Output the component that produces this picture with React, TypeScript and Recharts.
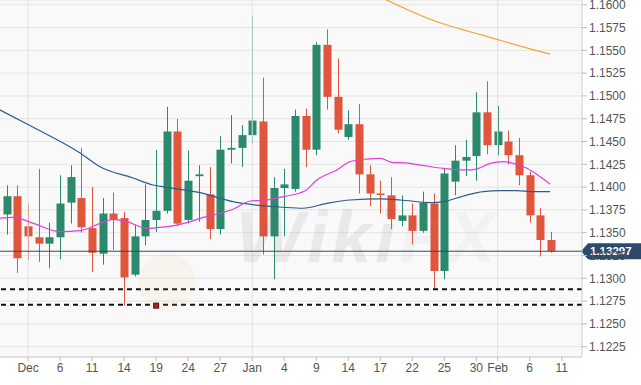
import React from "react";
import {
  ComposedChart,
  Bar,
  Line,
  XAxis,
  YAxis,
  CartesianGrid,
  ReferenceLine,
  ReferenceDot,
} from "recharts";

// daily candles, Nov 29 .. Feb 8 (index 0..51)
const opens = [
  1.137, 1.139, 1.1357, 1.1345, 1.1338, 1.1345, 1.1383, 1.1388, 1.1355, 1.1327,
  1.1371, 1.1366, 1.1304, 1.1346, 1.1364, 1.1374, 1.1461, 1.1364, 1.1412, 1.1392,
  1.1354, 1.1441, 1.1443, 1.1457, 1.1472, 1.1346, 1.1399, 1.1398, 1.1478, 1.1441,
  1.1556, 1.1499, 1.1455, 1.1469, 1.1414, 1.1393, 1.1391, 1.1363, 1.1369, 1.1352,
  1.1382, 1.1308, 1.1406, 1.1429, 1.1434, 1.1482, 1.1446, 1.145, 1.1435, 1.1413,
  1.1369, 1.1342,
];
const highs = [
  1.1402, 1.1402, 1.1382, 1.142, 1.1361, 1.1413, 1.1424, 1.1443, 1.14, 1.1388,
  1.1394, 1.1373, 1.1359, 1.1403, 1.1441, 1.1488, 1.1475, 1.144, 1.1424, 1.1422,
  1.1456, 1.1479, 1.1468, 1.1588, 1.152, 1.1411, 1.142, 1.1485, 1.1486, 1.1559,
  1.1573, 1.1541, 1.1484, 1.1491, 1.1424, 1.1407, 1.1411, 1.1391, 1.1382, 1.1395,
  1.1393, 1.142, 1.1446, 1.1452, 1.1504, 1.1516, 1.1489, 1.1462, 1.1454, 1.1417,
  1.1377, 1.1351,
];
const lows = [
  1.1348, 1.1306, 1.132, 1.1318, 1.1311, 1.1321, 1.136, 1.135, 1.1307, 1.1315,
  1.1331, 1.127, 1.1302, 1.1336, 1.1351, 1.1371, 1.1357, 1.136, 1.1362, 1.1343,
  1.1348, 1.1426, 1.1422, 1.1447, 1.1326, 1.1299, 1.1346, 1.1395, 1.1422, 1.1435,
  1.1485, 1.1459, 1.1452, 1.1393, 1.1379, 1.1371, 1.1354, 1.1357, 1.1337, 1.135,
  1.1288, 1.1299, 1.1391, 1.1412, 1.1407, 1.1436, 1.1435, 1.1425, 1.1402, 1.1361,
  1.1324, 1.1328,
];
const closes = [
  1.139, 1.1322, 1.1346, 1.1338, 1.1345, 1.1382, 1.1411, 1.1356, 1.1328, 1.1371,
  1.1364, 1.1301, 1.1346, 1.1364, 1.1374, 1.1461, 1.136, 1.1407, 1.1414, 1.1354,
  1.1441, 1.1443, 1.1457, 1.1473, 1.1346, 1.1399, 1.1403, 1.1478, 1.1441, 1.1556,
  1.1499, 1.1463, 1.1469, 1.1414, 1.1393, 1.1392, 1.1365, 1.1369, 1.1352, 1.1383,
  1.1308, 1.1415, 1.1429, 1.1433, 1.1482, 1.1446, 1.1461, 1.1435, 1.1413, 1.1369,
  1.1342, 1.13297,
];

// moving averages as [index, value]
const maFast = [
  [-0.7, 1.13658], [0.62, 1.13669], [2.49, 1.13603], [5.0, 1.13511], [6.87, 1.13522],
  [8.74, 1.13603], [9.99, 1.13647], [11.25, 1.13621], [13.12, 1.13548], [14.06, 1.13555],
  [15.93, 1.13584], [16.87, 1.1361], [18.12, 1.13658], [19.99, 1.13713], [21.2, 1.13757],
  [22.8, 1.13848], [24.37, 1.13859], [25.9, 1.13895], [27.96, 1.13961], [29.05, 1.14078],
  [30.93, 1.14188], [32.17, 1.14279], [33.74, 1.14308], [34.99, 1.14316], [36.23, 1.14268],
  [36.86, 1.14268], [38.73, 1.14242], [40.89, 1.14206], [43.11, 1.14188], [43.89, 1.14195],
  [45.3, 1.14261], [46.51, 1.14279], [47.45, 1.14261], [48.74, 1.14206], [49.98, 1.14114],
  [50.92, 1.14031],
];
const maMid = [
  [-0.7, 1.1485], [2.49, 1.14656], [5.62, 1.14462], [6.87, 1.14374], [8.74, 1.14224],
  [11.84, 1.141], [13.71, 1.14023], [15.0, 1.13998], [18.12, 1.13939], [21.2, 1.1384],
  [25.9, 1.13779], [27.77, 1.13768], [29.99, 1.13822], [32.17, 1.13859], [34.99, 1.1387],
  [36.86, 1.13859], [39.95, 1.13829], [40.89, 1.1384], [43.11, 1.13913], [44.64, 1.1395],
  [46.24, 1.13961], [47.8, 1.13961], [49.33, 1.1395], [50.9, 1.1395],
];
const maSlow = [
  [35.0, 1.16085], [40.3, 1.15814], [43.42, 1.15704], [45.92, 1.15621], [48.11, 1.15547],
  [50.92, 1.15459],
];

const xTicks = [2, 5, 8, 11, 14, 17, 20, 23, 26, 29, 32, 35, 38, 41, 44, 46, 49, 52];
const xTickLabels = [
  "Dec", "6", "11", "14", "19", "24", "27", "Jan", "4", "9", "14", "17", "22", "25",
  "30", "Feb", "6", "11",
];
const monthStarts = [2, 23, 46];
const yTicks = [
  1.1225, 1.125, 1.1275, 1.13, 1.1325, 1.135, 1.1375, 1.14, 1.1425, 1.145, 1.1475,
  1.15, 1.1525, 1.155, 1.1575, 1.16,
];
const supportLevels = [1.1288, 1.1271];
const lowMarker = { i: 14, price: 1.127 };

const GREEN = "#2b8a6c";
const RED = "#e0553b";
const FONT = "'Liberation Sans', Arial, sans-serif";

const candles = opens.map((o, i) => ({
  i,
  o,
  h: highs[i],
  l: lows[i],
  c: closes[i],
  range: [lows[i], highs[i]],
}));
const toPts = (arr: number[][]) => arr.map(([i, v]) => ({ i, v }));
const lastClose = closes[closes.length - 1];

const Candle = (props: any) => {
  let { x, y, width, height, payload } = props;
  if (height < 0) {
    y = y + height;
    height = -height;
  }
  const { o, h, l, c } = payload;
  const color = c >= o ? GREEN : RED;
  const k = height / (h - l || 1);
  const yOf = (v: number) => y + (h - v) * k;
  const top = yOf(Math.max(o, c));
  const bot = yOf(Math.min(o, c));
  const cx = Math.round(x + width / 2) + 0.5;
  return (
    <g>
      <line x1={cx} x2={cx} y1={y} y2={y + height} stroke={color} strokeWidth={1} />
      <rect x={cx - 4} y={top} width={8} height={Math.max(bot - top, 1.5)} fill={color} />
    </g>
  );
};

const PriceTag = (props: any) => {
  const vb = props.viewBox || {};
  const x0 = vb.x + vb.width - 1;
  const yc = vb.y;
  return (
    <g>
      <polygon
        points={`${x0},${yc} ${x0 + 7},${yc - 8} ${x0 + 62},${yc - 8} ${x0 + 62},${yc + 8} ${x0 + 7},${yc + 8}`}
        fill="#2c4a6b"
      />
      <text x={x0 + 9} y={yc + 4} fill="#fff" fontSize={11.5} fontWeight="bold" fontFamily={FONT}>
        {lastClose.toFixed(5)}
      </text>
    </g>
  );
};

const Marker = (props: any) => (
  <rect x={props.cx - 2.5} y={props.cy - 2.5} width={5} height={5} fill="#a3121a" stroke="#3a0a0a" strokeWidth={1} />
);

export default function App() {
  return (
    <div style={{ position: "absolute", left: 0, top: 0, width: 641, height: 385, background: "#fff" }}>
      <ComposedChart
        width={641}
        height={385}
        data={candles}
        margin={{ top: 0, right: 0, bottom: 0, left: 0 }}
      >
        <CartesianGrid vertical={false} stroke="#e4e4e4" fill="#f9f9f9" />
        <XAxis
          type="number"
          dataKey="i"
          domain={[-0.63, 53.9]}
          allowDataOverflow
          ticks={xTicks}
          interval={0}
          tickFormatter={(v: number) => xTickLabels[xTicks.indexOf(v)] ?? ""}
          height={28}
          tickSize={4}
          axisLine={{ stroke: "#cfcfcf" }}
          tickLine={{ stroke: "#bbb" }}
          tick={{ fill: "#555", fontSize: 12, fontFamily: FONT }}
        />
        <YAxis
          orientation="right"
          domain={[1.12137, 1.16052]}
          allowDataOverflow
          ticks={yTicks}
          interval={0}
          tickFormatter={(v: number) => v.toFixed(4)}
          width={59}
          tickSize={5}
          axisLine={{ stroke: "#cfcfcf" }}
          tickLine={{ stroke: "#bbb" }}
          tick={{ fill: "#555", fontSize: 12, fontFamily: FONT }}
        />
        {monthStarts.map((m) => (
          <ReferenceLine key={m} x={m} stroke="#e2e2e2" />
        ))}
        {supportLevels.map((s) => (
          <ReferenceLine key={s} y={s} stroke="#111" strokeWidth={2} strokeDasharray="5 4" />
        ))}
        <Line data={toPts(maSlow)} dataKey="v" type="monotone" stroke="#f2a53a" strokeWidth={1.2} dot={false} activeDot={false} isAnimationActive={false} />
        <Line data={toPts(maMid)} dataKey="v" type="monotone" stroke="#2d5b8c" strokeWidth={1.2} dot={false} activeDot={false} isAnimationActive={false} />
        <Line data={toPts(maFast)} dataKey="v" type="monotone" stroke="#e03fd8" strokeWidth={1.2} dot={false} activeDot={false} isAnimationActive={false} />
        <Bar dataKey="range" barSize={8} shape={<Candle />} isAnimationActive={false} />
        <ReferenceDot x={lowMarker.i} y={lowMarker.price} shape={<Marker />} />
        <ReferenceLine y={lastClose} stroke="#2c4a6b" strokeWidth={1} label={<PriceTag />} />
      </ComposedChart>
      <div
        style={{
          position: "absolute",
          left: 0,
          top: 0,
          width: 641,
          height: 385,
          pointerEvents: "none",
          overflow: "hidden",
        }}
      >
        <div
          style={{
            position: "absolute",
            left: 138,
            top: 254,
            width: 58,
            height: 58,
            borderRadius: 29,
            background: "rgba(240, 205, 120, 0.09)",
          }}
        />
        <div
          style={{
            position: "absolute",
            left: 236,
            top: 196,
            fontFamily: FONT,
            fontWeight: "bold",
            fontStyle: "italic",
            fontSize: 72,
            color: "rgba(110, 110, 110, 0.11)",
            letterSpacing: 4,
          }}
        >
          Wiki<span style={{ color: "rgba(110, 110, 110, 0.05)" }}>FX</span>
        </div>
      </div>
    </div>
  );
}
